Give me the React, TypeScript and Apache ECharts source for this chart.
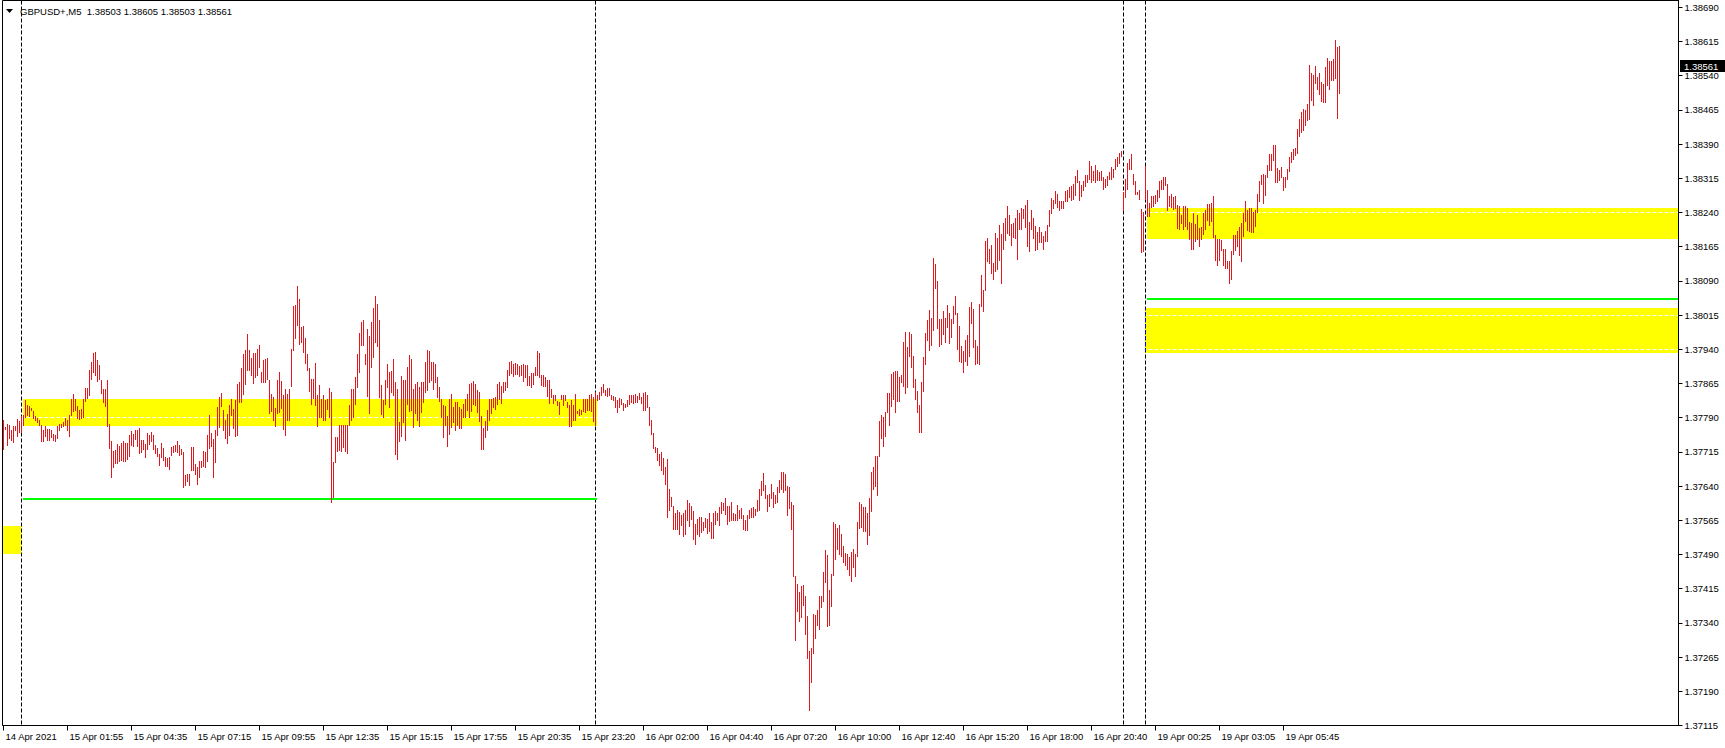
import { useEffect, useRef } from "react";
import * as echarts from "echarts";

// ---------- data ----------
const SYMBOL = "GBPUSD+,M5";
const LAST_OHLC = [1.38503, 1.38605, 1.38503, 1.38561];
// bar highs / lows in points (0.00001) above BASE
const BASE = 1.37;
const HIGH_PTS = [
  784,770,777,773,764,772,772,787,782,793,
  795,828,817,815,811,804,794,790,784,773,
  762,771,766,766,764,755,753,771,777,776,
  780,790,784,795,830,841,832,815,807,809,
  830,855,855,894,913,932,935,916,905,873,
  853,854,873,777,740,718,720,733,728,734,
  740,734,734,753,760,755,764,763,767,742,
  742,733,757,753,759,753,731,723,711,735,
  723,704,701,704,726,728,731,740,730,722,
  714,664,666,666,726,726,689,682,696,696,
  718,715,753,795,756,743,762,813,836,845,
  808,784,799,817,830,810,829,863,868,900,
  930,939,973,938,921,932,932,941,949,890,
  917,919,921,872,843,835,811,872,891,870,
  839,852,843,853,940,1036,1038,1078,1050,990,
  991,965,930,900,874,874,909,839,861,832,
  839,828,830,856,846,693,747,747,773,773,
  773,773,773,817,854,852,879,930,975,1000,
  1005,930,985,970,1000,1030,1058,1040,1005,861,
  828,873,907,890,892,918,868,852,781,881,
  873,872,901,927,918,854,865,868,857,868,
  868,912,938,936,912,912,907,879,857,832,
  817,815,793,832,843,813,824,824,813,810,
  821,832,843,865,866,870,865,850,846,793,
  768,782,806,832,832,833,835,865,868,859,
  868,868,894,912,914,907,909,907,904,906,
  907,905,906,881,888,887,901,936,933,884,
  884,879,873,873,854,839,839,826,824,839,
  839,839,824,817,828,817,841,805,810,808,
  832,832,832,839,843,835,846,839,846,857,
  863,851,856,856,839,837,835,828,833,832,
  822,821,828,839,839,839,841,838,844,835,
  844,846,839,813,784,756,726,724,711,715,
  702,682,700,634,616,596,580,587,583,576,
  581,588,609,602,596,585,557,568,573,573,
  561,570,568,581,562,582,586,580,594,606,
  604,615,597,596,606,580,578,598,588,591,
  577,566,577,588,591,594,590,609,633,651,
  668,643,620,622,644,627,620,639,653,672,
  671,667,641,639,606,598,443,426,407,421,
  424,399,355,278,285,359,357,369,399,399,
  451,499,488,412,448,562,558,548,554,536,
  508,494,491,484,496,503,492,562,606,600,
  594,594,582,613,671,681,705,705,782,795,
  791,803,844,845,885,890,892,893,880,884,
  956,978,944,978,974,926,876,849,817,869,
  924,976,1004,1027,1008,1141,1127,1089,1006,1007,
  1024,1008,1037,1019,1006,1034,1058,1019,992,948,
  936,960,971,1033,1043,1029,960,947,1039,1102,
  1069,1177,1185,1160,1169,1129,1195,1185,1213,1193,
  1217,1227,1254,1234,1215,1217,1227,1246,1238,1250,
  1248,1256,1267,1219,1245,1228,1210,1197,1208,1197,
  1188,1199,1212,1246,1271,1267,1287,1280,1265,1265,
  1265,1287,1290,1295,1298,1302,1320,1333,1309,1301,
  1309,1323,1323,1352,1341,1331,1344,1333,1329,1331,
  1318,1314,1320,1329,1340,1336,1358,1362,1371,1376,
  1285,1314,1349,1358,1368,1325,1309,1284,1289,1247,
  1241,1341,1289,1261,1276,1276,1279,1289,1309,1311,
  1319,1319,1302,1276,1281,1274,1276,1256,1254,1234,
  1254,1254,1251,1219,1216,1238,1214,1234,1207,1208,
  1238,1246,1258,1258,1260,1276,1190,1181,1181,1179,
  1159,1159,1134,1134,1155,1190,1190,1199,1208,1217,
  1239,1265,1246,1249,1249,1241,1245,1280,1309,1322,
  1324,1323,1344,1368,1369,1389,1387,1338,1334,1340,
  1317,1318,1336,1362,1373,1379,1382,1424,1446,1461,
  1466,1464,1477,1563,1545,1541,1561,1537,1545,1526,
  1521,1559,1578,1572,1572,1576,1619,1603,1605,
];
const LOW_PTS = [
  722,765,731,745,742,736,764,751,759,759,
  775,791,795,793,806,790,784,780,775,739,
  739,751,741,742,748,741,740,745,764,769,
  771,775,764,750,796,804,807,790,788,790,
  791,827,834,839,874,891,883,871,874,844,
  824,815,772,724,661,682,690,690,696,697,
  695,694,699,707,731,729,744,727,712,715,
  722,704,722,733,740,722,712,705,686,704,
  697,685,685,678,709,715,717,715,709,711,
  638,643,651,643,676,676,666,645,660,682,
  685,682,696,723,729,661,693,753,769,815,
  762,745,734,753,796,767,751,752,824,824,
  843,863,895,894,884,867,879,884,901,868,
  868,868,875,801,804,785,772,800,802,811,
  766,753,785,784,859,939,965,993,952,957,
  935,911,895,848,821,833,817,772,792,791,
  785,784,810,791,605,616,693,718,720,718,
  726,718,713,773,786,792,821,857,890,949,
  949,908,837,800,901,923,956,947,835,799,
  792,821,857,813,846,839,711,699,740,750,
  781,742,821,805,808,770,800,784,772,803,
  824,846,851,868,872,854,868,835,826,792,
  748,775,729,754,770,781,762,773,768,767,
  792,792,806,792,804,819,817,803,783,722,
  722,748,764,786,800,814,810,821,832,822,
  846,850,857,884,888,882,885,885,881,883,
  870,879,861,861,857,865,883,884,879,861,
  860,859,837,822,835,822,828,817,799,830,
  817,828,813,771,771,786,784,801,795,799,
  805,803,806,808,804,783,773,828,832,839,
  846,839,838,839,832,828,813,803,813,821,
  808,813,815,819,824,822,824,824,832,822,
  806,808,813,775,755,724,715,697,686,675,
  667,644,572,587,596,547,547,545,534,554,
  531,534,565,553,568,524,512,534,530,540,
  544,550,538,542,526,526,556,566,554,582,
  588,578,558,564,566,566,566,566,570,570,
  546,544,544,570,573,573,577,586,588,620,
  631,614,585,596,614,594,604,606,627,633,
  628,631,577,592,546,442,303,367,345,353,
  379,315,263,150,211,274,307,335,327,375,
  387,430,333,335,376,446,480,502,491,487,
  474,466,458,446,431,462,442,487,548,550,
  542,542,514,532,586,633,641,620,707,745,
  729,751,803,773,815,832,802,827,827,868,
  860,844,858,926,901,858,832,803,758,758,
  849,908,960,938,950,983,1074,986,948,952,
  974,956,988,954,966,998,1018,940,914,912,
  890,914,905,926,998,946,908,910,908,1035,
  1024,1069,1133,1129,1107,1094,1111,1117,1135,1085,
  1160,1180,1196,1191,1169,1187,1185,1137,1204,1203,
  1227,1208,1166,1156,1203,1185,1157,1161,1175,1175,
  1161,1178,1178,1211,1239,1249,1260,1252,1246,1249,
  1251,1265,1265,1274,1267,1270,1279,1307,1267,1276,
  1289,1298,1307,1314,1307,1311,1307,1312,1311,1312,
  1291,1296,1300,1314,1314,1318,1336,1342,1349,1363,
  1245,1274,1292,1336,1336,1302,1280,1280,1270,1154,
  1156,1270,1232,1232,1252,1254,1260,1265,1274,1292,
  1291,1300,1245,1254,1252,1247,1249,1206,1203,1216,
  1203,1210,1203,1183,1161,1159,1178,1181,1166,1183,
  1194,1203,1223,1212,1222,1186,1135,1124,1135,1157,
  1124,1119,1119,1086,1095,1150,1157,1166,1146,1134,
  1188,1221,1201,1200,1197,1197,1210,1241,1265,1302,
  1261,1278,1318,1333,1334,1356,1307,1307,1311,1318,
  1290,1296,1313,1331,1351,1357,1367,1371,1407,1417,
  1420,1431,1442,1446,1486,1475,1523,1512,1501,1484,
  1482,1482,1519,1512,1531,1531,1534,1447,1503,
];
const SLOT_COUNT = 838; // bar slots incl. the empty chart shift on the right
const TICK_EVERY = 32;
const TICK_LABELS = [
  "14 Apr 2021", "15 Apr 01:55", "15 Apr 04:35", "15 Apr 07:15", "15 Apr 09:55",
  "15 Apr 12:35", "15 Apr 15:15", "15 Apr 17:55", "15 Apr 20:35", "15 Apr 23:20",
  "16 Apr 02:00", "16 Apr 04:40", "16 Apr 07:20", "16 Apr 10:00", "16 Apr 12:40",
  "16 Apr 15:20", "16 Apr 18:00", "16 Apr 20:40", "19 Apr 00:25", "19 Apr 03:05",
  "19 Apr 05:45",
];
const Y_MIN = 1.37115;
const Y_MAX = 1.38705;
const Y_STEP = 0.00075;
// period separators (bar index)
const SEPARATORS = [9, 296, 560, 571];
// yellow zones
const ZONE_FROM = [0, 10, 572, 571];
const ZONE_TO: (number | null)[] = [9, 297, null, null];
const ZONE_TOP = [1.37553, 1.3783, 1.38249, 1.3803];
const ZONE_BOTTOM = [1.37492, 1.37772, 1.38181, 1.37931];
// green levels
const LEVEL_FROM = [10, 572];
const LEVEL_TO: (number | null)[] = [297, null];
const LEVEL_PRICE = [1.37612, 1.38051];

const FONT = "Liberation Sans";
const BAR_COLOR = "#e3171c";

function zonePixels(api: any, cs: any, k: number) {
  const a = api.coord([ZONE_FROM[k], ZONE_TOP[k]]);
  const b = api.coord([ZONE_FROM[k], ZONE_BOTTOM[k]]);
  const x1 = Math.round(a[0]) - 1;
  const to = ZONE_TO[k];
  const x2 = to == null ? cs.x + cs.width : Math.round(api.coord([to, ZONE_TOP[k]])[0]) - 1;
  return { x1, x2, y1: Math.round(a[1]), y2: Math.round(b[1]) };
}

export default function App() {
  const ref = useRef<HTMLDivElement>(null);
  useEffect(() => {
    const chart = echarts.init(ref.current!, null, { renderer: "svg" });
    const n = Math.min(HIGH_PTS.length, LOW_PTS.length);
    const bars = [];
    for (let i = 0; i < n; i++) bars.push([i, BASE + HIGH_PTS[i] / 100000, BASE + LOW_PTS[i] / 100000]);
    const cats = Array.from({ length: SLOT_COUNT }, (_, i) => String(i));
    const showTick = (i: number) => i % TICK_EVERY === 0 && i / TICK_EVERY < TICK_LABELS.length;

    chart.setOption({
      animation: false,
      backgroundColor: "#ffffff",
      grid: { left: 2.5, top: 0.5, right: 46.5, bottom: 22.5, show: true, borderColor: "#000", borderWidth: 1, z: 8 },
      xAxis: {
        type: "category",
        data: cats,
        boundaryGap: true,
        axisLine: { show: true, lineStyle: { color: "#000", width: 1 } },
        axisTick: { show: true, alignWithLabel: true, interval: (i: number) => showTick(i), length: 5, lineStyle: { color: "#000" } },
        axisLabel: {
          interval: (i: number) => showTick(i),
          formatter: (_v: string, i: number) => (showTick(i) ? TICK_LABELS[i / TICK_EVERY] : ""),
          align: "left",
          margin: 6,
          padding: [0, 0, 0, 2],
          color: "#000",
          fontFamily: FONT,
          fontSize: 9.5,
        },
        splitLine: { show: false },
      },
      yAxis: {
        type: "value",
        position: "right",
        min: Y_MIN,
        max: Y_MAX,
        interval: Y_STEP,
        z: 2,
        axisLine: { show: true, lineStyle: { color: "#000" } },
        axisTick: { show: true, length: 4, lineStyle: { color: "#000" } },
        axisLabel: {
          margin: 6,
          color: "#000",
          fontFamily: FONT,
          fontSize: 9.5,
          showMaxLabel: false,
          formatter: (v: number) => {
            const k = (v - Y_MIN) / Y_STEP;
            return Math.abs(k - Math.round(k)) < 1e-6 ? v.toFixed(5) : "";
          },
        },
        splitLine: { show: true, lineStyle: { color: "#ffffff", width: 1, type: [4, 2] } },
      },
      graphic: [
        { type: "polygon", shape: { points: [[6, 9], [13, 9], [9.5, 13]] }, style: { fill: "#000" }, z: 10 },
        {
          type: "text",
          x: 20,
          y: 11,
          z: 10,
          style: {
            text: SYMBOL + "  " + LAST_OHLC.map((v) => v.toFixed(5)).join(" "),
            fill: "#000",
            font: `9.5px "${FONT}"`,
            verticalAlign: "middle",
          },
        },
      ],
      series: [
        {
          type: "custom",
          name: "zones",
          z: 1,
          silent: true,
          clip: true,
          data: ZONE_TOP.map((t, k) => [ZONE_FROM[k], t, ZONE_BOTTOM[k]]),
          encode: { x: 0, y: [1, 2] },
          renderItem: (params: any, api: any) => {
            const p = zonePixels(api, params.coordSys, params.dataIndex);
            return { type: "rect", shape: { x: p.x1, y: p.y1, width: p.x2 - p.x1, height: p.y2 - p.y1 }, style: { fill: "#ffff00" } };
          },
        },
        {
          type: "custom",
          name: "separators",
          z: 3,
          silent: true,
          data: SEPARATORS.map((i) => [i]),
          encode: { x: 0 },
          renderItem: (params: any, api: any) => {
            const cs = params.coordSys;
            const x = api.coord([api.value(0), Y_MIN])[0];
            const children: any[] = [
              { type: "line", shape: { x1: x, y1: cs.y, x2: x, y2: cs.y + cs.height }, style: { stroke: "#000", lineWidth: 1, lineDash: [4, 2] } },
            ];
            for (let k = 0; k < ZONE_TOP.length; k++) {
              const p = zonePixels(api, cs, k);
              if (x - 0.5 >= p.x1 && x + 0.5 <= p.x2) {
                children.push({
                  type: "line",
                  shape: { x1: x, y1: p.y1, x2: x, y2: p.y2 },
                  style: { stroke: "#0000ff", lineWidth: 1, lineDash: [4, 2], lineDashOffset: p.y1 - cs.y },
                });
              }
            }
            return { type: "group", children };
          },
        },
        {
          type: "custom",
          name: "levels",
          z: 4,
          silent: true,
          clip: true,
          data: LEVEL_PRICE.map((p, k) => [LEVEL_FROM[k], p]),
          encode: { x: 0, y: 1 },
          renderItem: (params: any, api: any) => {
            const k = params.dataIndex;
            const cs = params.coordSys;
            const a = api.coord([LEVEL_FROM[k], LEVEL_PRICE[k]]);
            const to = LEVEL_TO[k];
            const x2 = to == null ? cs.x + cs.width : Math.round(api.coord([to, LEVEL_PRICE[k]])[0]) - 1;
            const y = Math.round(a[1]);
            return { type: "line", shape: { x1: Math.round(a[0]) - 1, y1: y, x2, y2: y }, style: { stroke: "#00ff00", lineWidth: 2 } };
          },
        },
        {
          type: "custom",
          name: "bars",
          z: 5,
          silent: true,
          data: bars,
          encode: { x: 0, y: [1, 2] },
          renderItem: (_params: any, api: any) => {
            const i = api.value(0);
            const hi = api.coord([i, api.value(1)]);
            const lo = api.coord([i, api.value(2)]);
            let y1 = Math.min(hi[1], lo[1]);
            let y2 = Math.max(hi[1], lo[1]);
            y1 = Math.round(y1);
            y2 = Math.round(y2) + 1;
            return { type: "line", shape: { x1: hi[0], y1, x2: hi[0], y2 }, style: { stroke: BAR_COLOR, lineWidth: 1 } };
          },
        },
        {
          type: "custom",
          name: "last price",
          z: 9,
          silent: true,
          clip: false,
          data: [[0, LAST_OHLC[3]]],
          encode: { x: 0, y: 1 },
          renderItem: (params: any, api: any) => {
            const cs = params.coordSys;
            const y = Math.round(api.coord([0, api.value(1)])[1]);
            const x = cs.x + cs.width + 1.5;
            return {
              type: "group",
              children: [
                { type: "rect", shape: { x, y: y - 6, width: 50, height: 12 }, style: { fill: "#000" } },
                {
                  type: "text",
                  style: {
                    x: x + 4,
                    y: y,
                    text: Number(api.value(1)).toFixed(5),
                    fill: "#fff",
                    font: `9.5px "${FONT}"`,
                    verticalAlign: "middle",
                    align: "left",
                  },
                },
              ],
            };
          },
        },
      ],
    });
    return () => chart.dispose();
  }, []);
  return (
    <div style={{ position: "fixed", left: 0, top: 0, width: 1725, height: 748, background: "#fff" }}>
      <div ref={ref} style={{ width: 1725, height: 748 }} />
    </div>
  );
}
